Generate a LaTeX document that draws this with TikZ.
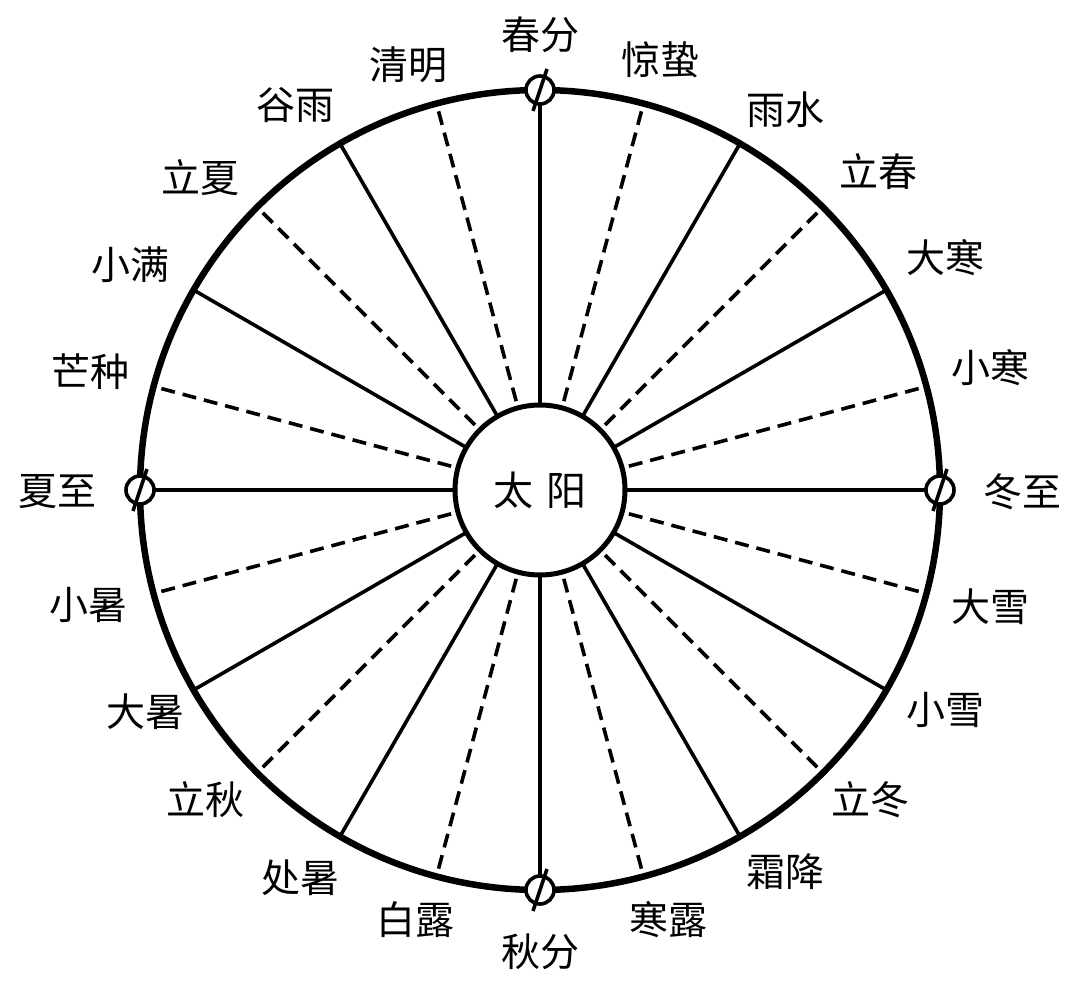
\documentclass[tikz,border=0pt]{standalone}
\usetikzlibrary{calc}
\usepackage{fontspec}
\newfontfamily\cjk{Noto Sans CJK SC}
\begin{document}
\begin{tikzpicture}[x=1pt,y=-1pt,
  lbl/.style={font=\cjk\fontsize{39}{41}\selectfont,inner sep=0pt},
  ray/.style={line width=3.6pt},
  dray/.style={line width=3.6pt,dash pattern=on 14pt off 8pt}]
\useasboundingbox (0,0) rectangle (1080,985);
\coordinate (c) at (540,490);
\foreach \a in {0,30,...,330}{\draw[ray] ($(c)+(\a:85)$) -- ($(c)+(\a:400)$);}
\foreach \a in {15,45,...,345}{\draw[dray] ($(c)+(\a:92)$) -- ($(c)+(\a:398)$);}
\draw[line width=6.5pt] (c) circle (400);
\node[draw,line width=5pt,fill=white,circle,minimum size=170pt,inner sep=0pt,font=\cjk\fontsize{40}{42}\selectfont] (sun) at (c) {太\,\,阳};
\foreach \a in {0,90,180,270}{
  \node[draw,line width=3.6pt,fill=white,circle,minimum size=28pt,inner sep=0pt] (m\a) at ($(c)+(\a:400)$) {};
  \draw[line width=3.6pt] ($(m\a)+(-7,21)$) -- ($(m\a)+(7,-21)$);}
\foreach \t/\x/\y in {春分/540/35,惊蛰/660/60,雨水/785/110,立春/878/172,大寒/945/258,小寒/990/368,冬至/1022/492,大雪/990/607,小雪/945/710,立冬/870/800,霜降/785/872,寒露/668/920,秋分/540/952,白露/415/920,处暑/300/878,立秋/205/800,大暑/145/712,小暑/88/605,夏至/58/492,芒种/90/372,小满/130/265,立夏/200/178,谷雨/295/105,清明/408/65}
  \node[lbl] at (\x,\y) {\t};
\end{tikzpicture}
\end{document}
